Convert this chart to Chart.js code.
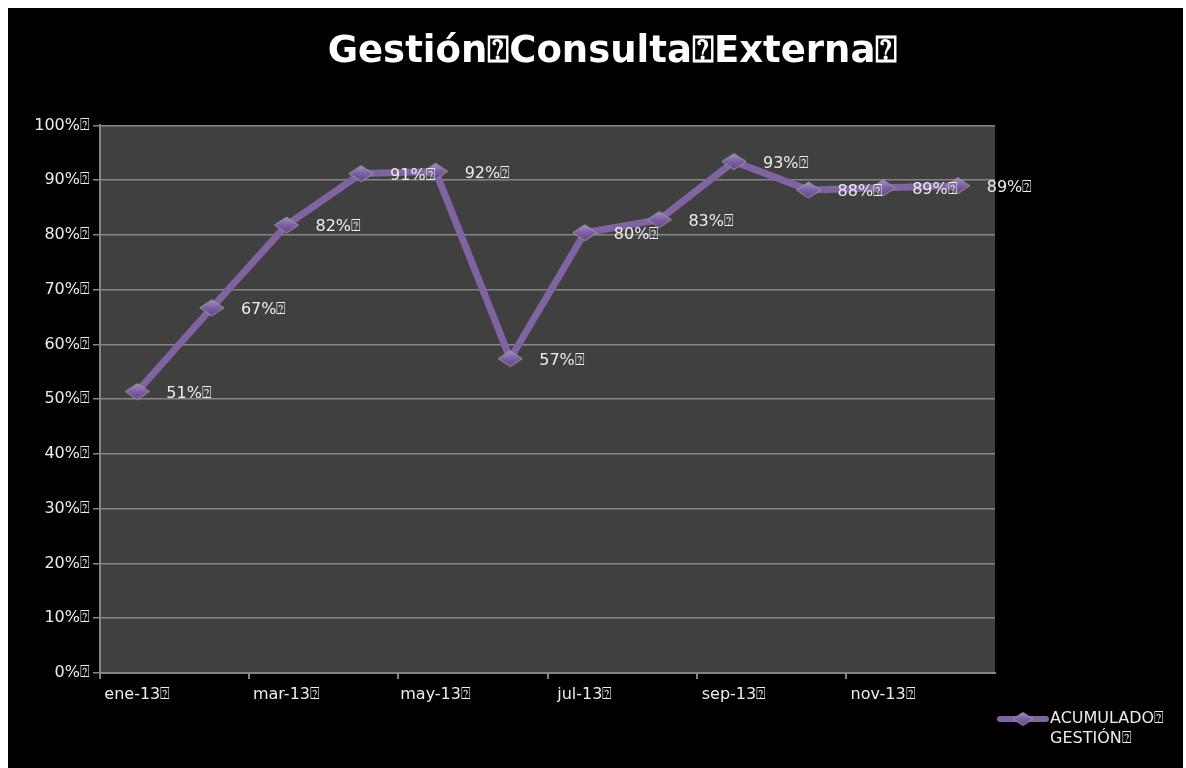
<!DOCTYPE html>
<html><head><meta charset="utf-8">
<script src="https://cdn.jsdelivr.net/npm/chart.js@4.4.1/dist/chart.umd.min.js"></script>
<style>
html,body{margin:0;padding:0;background:#fff;width:1186px;height:768px;overflow:hidden}
#wrap{position:absolute;left:8px;top:8px;width:1175px;height:760px;background:#000}
</style></head><body>
<div id="wrap"><canvas id="c"></canvas></div>
<script>
const TOFU = '\u2370';
const titleText = 'Gestión' + TOFU + 'Consulta' + TOFU + 'Externa' + TOFU;
const months = ['ene-13','feb-13','mar-13','abr-13','may-13','jun-13','jul-13','ago-13','sep-13','oct-13','nov-13','dic-13'];
const seriesName = ['ACUMULADO' + TOFU, 'GESTIÓN' + TOFU];
const values = [51.4, 66.7, 81.8, 91.2, 91.6, 57.4, 80.4, 82.8, 93.4, 88.2, 88.6, 89.0];
const yMin = 0, yMax = 100, yStep = 10;

const LINE = '#8064a2';
const TXT = '#ececec';
const GRID = '#858585';
const FONT = "'DejaVu Sans', 'Open Sans', sans-serif";

function diamond(w, h) {
  const c = document.createElement('canvas');
  c.width = w; c.height = h;
  const g = c.getContext('2d');
  const gr = g.createLinearGradient(0, 0, 0, h);
  gr.addColorStop(0, '#a994c9');
  gr.addColorStop(0.5, '#7c5fa6');
  gr.addColorStop(1, '#5e4488');
  g.beginPath();
  g.moveTo(w / 2, 1); g.lineTo(w - 1, h / 2); g.lineTo(w / 2, h - 1); g.lineTo(1, h / 2); g.closePath();
  g.fillStyle = gr; g.fill();
  g.strokeStyle = '#9a9a9a'; g.lineWidth = 1; g.stroke();
  return c;
}
const marker = diamond(26, 18);
const legendMarker = diamond(22, 15);

const plotBg = {
  id: 'plotBg',
  beforeDraw(chart) {
    const a = chart.chartArea, ctx = chart.ctx;
    ctx.save(); ctx.fillStyle = '#404040';
    ctx.fillRect(a.left, a.top, a.right - a.left, a.bottom - a.top);
    ctx.restore();
  }
};

// shift the title's centring box a little to the right, as in the original
const titleShift = {
  id: 'titleShift',
  afterLayout(chart) {
    if (chart.titleBlock) chart.titleBlock.left += 34;
  }
};

const dataLabels = {
  id: 'dataLabels',
  afterDatasetsDraw(chart) {
    const ctx = chart.ctx;
    const meta = chart.getDatasetMeta(0);
    ctx.save();
    ctx.font = '16px ' + FONT;
    ctx.fillStyle = TXT;
    ctx.textAlign = 'left';
    ctx.textBaseline = 'middle';
    meta.data.forEach((p, i) => {
      ctx.fillText(Math.round(values[i]) + '%' + TOFU, p.x + 29, p.y + 2);
    });
    ctx.restore();
  }
};

const customLegend = {
  id: 'customLegend',
  afterDraw(chart) {
    const ctx = chart.ctx;
    const x0 = chart.chartArea.right + 3, y0 = 711;
    ctx.save();
    ctx.strokeStyle = LINE; ctx.lineWidth = 6; ctx.lineCap = 'round';
    ctx.beginPath(); ctx.moveTo(x0 + 2, y0); ctx.lineTo(x0 + 48, y0); ctx.stroke();
    ctx.drawImage(legendMarker, x0 + 25 - legendMarker.width / 2, y0 - legendMarker.height / 2);
    ctx.font = '16px ' + FONT;
    ctx.fillStyle = TXT;
    ctx.textAlign = 'left'; ctx.textBaseline = 'middle';
    seriesName.forEach((t, i) => ctx.fillText(t, x0 + 52, y0 + i * 20));
    ctx.restore();
  }
};

new Chart(document.getElementById('c'), {
  type: 'line',
  data: {
    labels: months,
    datasets: [{
      label: seriesName.join(' '),
      data: values,
      borderColor: LINE,
      backgroundColor: LINE,
      borderWidth: 7,
      borderJoinStyle: 'round',
      tension: 0,
      pointStyle: marker,
      pointRadius: 10,
      pointHoverRadius: 10,
      yAxisID: 'y'
    }]
  },
  options: {
    responsive: true,
    maintainAspectRatio: false,
    animation: false,
    devicePixelRatio: 1,
    layout: { padding: 0 },
    plugins: {
      legend: { display: false },
      tooltip: { enabled: false },
      title: {
        display: true,
        text: titleText,
        color: '#ffffff',
        font: { family: FONT, size: 37, weight: 'bold' },
        padding: { top: 22, bottom: 51 }
      }
    },
    scales: {
      x: {
        type: 'category',
        offset: true,
        afterFit(s) { s.height = 95; },
        grid: {
          offset: true,
          drawOnChartArea: false,
          drawTicks: true,
          tickLength: 6,
          lineWidth: 2,
          color: (c) => (c.index % 2 === 0 ? GRID : 'rgba(0,0,0,0)')
        },
        border: { display: true, color: GRID, width: 2 },
        ticks: {
          autoSkip: false,
          maxRotation: 0,
          padding: 6,
          color: TXT,
          font: { family: FONT, size: 16 },
          callback: (v, i) => (i % 2 === 0 ? months[i] + TOFU : '')
        }
      },
      y: {
        min: yMin, max: yMax,
        afterFit(s) { s.width = 92; },
        grid: { color: GRID, lineWidth: 1.5, tickLength: 7 },
        border: { display: true, color: GRID, width: 2 },
        ticks: {
          stepSize: yStep,
          padding: 3,
          color: TXT,
          font: { family: FONT, size: 16 },
          callback: (v) => v + '%' + TOFU
        }
      },
      y2: {
        position: 'right',
        min: yMin, max: yMax,
        afterFit(s) { s.width = 188; },
        grid: { display: false },
        border: { display: false },
        ticks: { display: false }
      }
    }
  },
  plugins: [plotBg, titleShift, dataLabels, customLegend]
});
</script>
</body></html>
